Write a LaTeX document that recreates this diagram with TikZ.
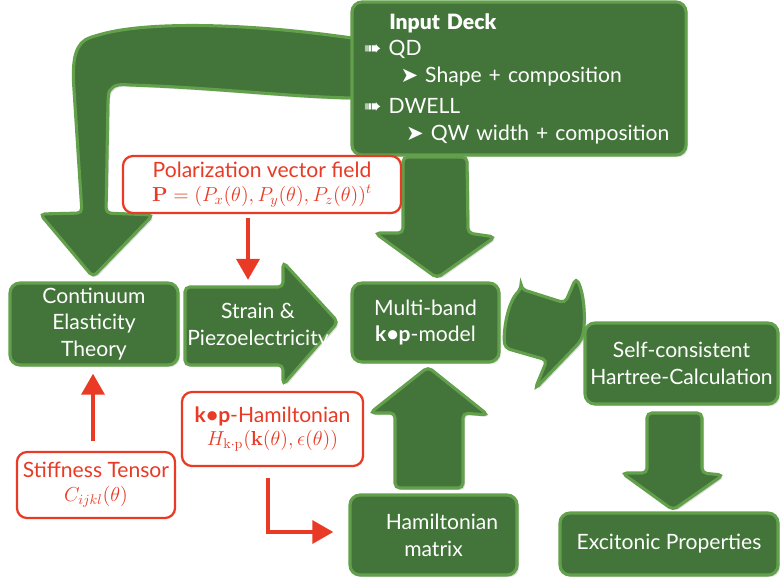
\documentclass[tikz,border=0pt]{standalone}
\usepackage{amsmath}
\usepackage[no-math]{fontspec}
\usepackage{tikz}
\usetikzlibrary{positioning, calc, arrows.meta, shadows}
\setmainfont{Lato}
\newfontfamily\dingfont{DejaVu Sans}
\newfontfamily\heavyfont{Lato Black}
\definecolor{gFill}{RGB}{67, 117, 58}
\definecolor{gBorder}{RGB}{98, 160, 76}
\definecolor{pRed}{RGB}{232, 58, 36}
\newcommand{\mathsz}{\fontsize{14.2}{19}\selectfont}
\tikzset{
    base/.style={
        font=\fontsize{15}{19}\selectfont,
        align=center
    },
    stage/.style={
        base,
        rectangle,
        rounded corners=2.5mm,
        draw=gBorder,
        line width=2.2pt,
        fill=gFill,
        text=white,
        inner sep=1mm,
        drop shadow={opacity=0.25, shadow xshift=0.5mm, shadow yshift=-0.5mm}
    },
    stagetext/.style={
        base,
        text=white,
        inner sep=0pt
    },
    blockarrow/.style={
        draw=gBorder,
        line width=2.2pt,
        fill=gFill,
        rounded corners=1.2mm,
        drop shadow={opacity=0.25, shadow xshift=0.5mm, shadow yshift=-0.5mm}
    },
    param/.style={
        base,
        rectangle,
        rounded corners=2.5mm,
        draw=pRed,
        line width=1.6pt,
        fill=white,
        text=pRed,
        inner sep=1mm
    },
    feed/.style={
        draw=pRed,
        line width=3.5pt,
        -{Triangle[width=16pt, length=15pt]}
    }
}

\begin{document}
\begin{tikzpicture}[x=0.025cm, y=-0.025cm]
    \useasboundingbox (0,0) rectangle (780,580);

    % Block arrows
    \draw[blockarrow] (365,40) .. controls (260,24) and (150,20) .. (95,36)
        .. controls (76,42) and (72,58) .. (74,90) -- (82,213) -- (40,214)
        -- (93,277) -- (153,215) -- (106,213) -- (108,100)
        .. controls (109,88) and (115,84) .. (130,85)
        .. controls (220,88) and (300,98) .. (365,98) -- cycle;
    \draw[blockarrow] (403,157) -- (467,157) -- (468,233) -- (495,237)
        -- (437,278) -- (375,233) -- (403,233) -- cycle;
    \draw[blockarrow] (395,488) -- (395,413) -- (370,413) -- (428,367)
        -- (488,415) -- (463,413) -- (463,488) -- cycle;
    \draw[blockarrow] (185,287) -- (283,287) -- (283,262) -- (338,322)
        -- (283,385) -- (283,365) -- (185,365) -- cycle;
    \draw[blockarrow] (521,289) -- (565,303) -- (576,278)
        .. controls (585,295) and (586,328) .. (580,342) -- (535,389)
        -- (547,360) -- (505,348) .. controls (503,330) and (508,302) .. cycle;
    \draw[blockarrow] (647,413) -- (702,413) -- (702,473) -- (723,475)
        -- (673,510) -- (622,473) -- (647,473) -- cycle;

    % Stages
    \node[stage, text width=7.75cm, inner xsep=3mm, minimum height=3.825cm, align=left] (deck) at (519,78.5) {%
        \hspace*{18pt}{\heavyfont Input Deck}\\
        {\dingfont ➠} QD\\
        \hspace*{26pt}{\dingfont ➤} Shape + composition\\[3pt]
        {\dingfont ➠} DWELL\\
        \hspace*{30pt}{\dingfont ➤} QW width + composition};
    \node[stage, minimum width=4.2cm, minimum height=2.05cm] (elast) at (94,324) {Continuum\\Elasticity\\Theory};
    \node[stagetext] (strain) at (258,326) {Strain \&\\Piezoelectricity};
    \node[stage, minimum width=3.675cm, minimum height=1.975cm] (kp) at (425.5,322.5) {Multi-band\\\textbf{k•p}-model};
    \node[stage, minimum width=4.825cm, minimum height=2.025cm] (hartree) at (681.5,363.5) {Self-consistent\\Hartree-Calculation};
    \node[stage, minimum width=4.175cm, minimum height=2cm] (hmat) at (433.5,535) {\hspace*{12pt}Hamiltonian\\matrix};
    \node[stage, minimum width=5.45cm, minimum height=1.55cm] (exciton) at (669,544) {Excitonic Properties};

    % Parameters
    \node[param, minimum width=6.95cm, minimum height=1.425cm] (polar) at (262,184.5) {Polarization vector field\\[-2pt]{\mathsz$\mathbf{P}=(P_x(\theta),P_y(\theta),P_z(\theta))^t$}};
    \node[param, minimum width=4.525cm, minimum height=1.85cm] (kpham) at (272.5,429) {\textbf{k•p}-Hamiltonian\\[-2pt]{\mathsz$H_{\mathrm{k\cdot p}}(\mathbf{k}(\theta),\epsilon(\theta))$}};
    \node[param, minimum width=3.95cm, minimum height=1.65cm] (stiff) at (96,485) {Stiffness Tensor\\[-2pt]{\mathsz$C_{ijkl}(\theta)$}};

    % Feeds
    \coordinate (strainTop) at (248,287);
    \coordinate (kpBend) at (268,532);
    \draw[feed, shorten <=1mm, shorten >=1.75mm] (polar.south -| strainTop) -- (strainTop);
    \draw[feed, shorten <=2.5mm, shorten >=1.75mm] (stiff.north -| 93,0) -- (elast.south -| 93,0);
    \draw[feed, shorten <=2.75mm, shorten >=3.75mm] (kpham.south -| kpBend) -- (kpBend) -- (hmat.west |- kpBend);

\end{tikzpicture}
\end{document}
